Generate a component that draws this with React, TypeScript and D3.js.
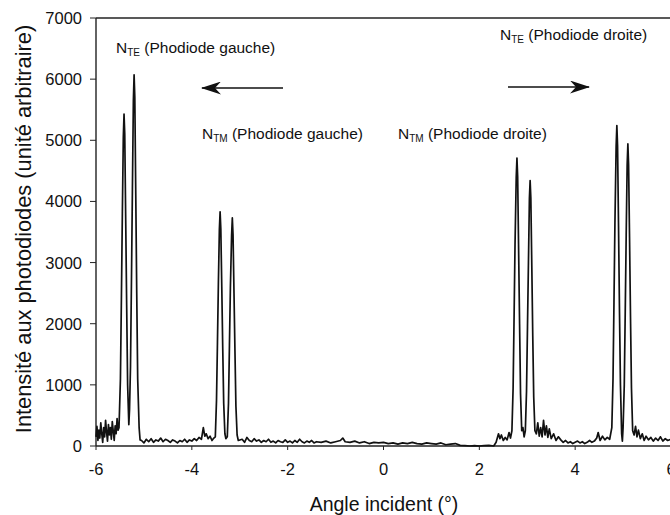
import React from 'react';
import * as d3 from 'd3';

// x: incident angle (deg), y: photodiode intensity (arbitrary units)
const yTicks = [0, 1000, 2000, 3000, 4000, 5000, 6000, 7000];
const xTicks = [-6, -4, -2, 0, 2, 4, 6];

// noisy start of the scan
const noiseStart: [number, number][] = [
  [-6.0, 150], [-5.98, 320], [-5.96, 90], [-5.94, 260], [-5.92, 130], [-5.9, 380],
  [-5.88, 200], [-5.86, 60], [-5.84, 300], [-5.82, 150], [-5.8, 420], [-5.78, 230],
  [-5.76, 80], [-5.74, 350], [-5.72, 180], [-5.7, 300], [-5.68, 110], [-5.66, 400],
  [-5.64, 240], [-5.62, 90], [-5.6, 330], [-5.58, 200], [-5.56, 450], [-5.54, 260],
];

// N_TE, left photodiode
const peaksTeGauche: [number, number][] = [
  [-5.52, 300], [-5.49, 1100], [-5.47, 2400], [-5.45, 3800], [-5.43, 5050],
  [-5.415, 5430], [-5.4, 5100], [-5.38, 3700], [-5.36, 2300], [-5.34, 1000],
  [-5.315, 350], [-5.3, 600], [-5.28, 1300], [-5.26, 2700], [-5.24, 4200],
  [-5.22, 5650], [-5.205, 6070], [-5.19, 5700], [-5.17, 4100], [-5.15, 2500],
  [-5.13, 1100], [-5.1, 300], [-5.08, 100],
];

const baseline1: [number, number][] = [
  [-5.05, 90], [-5.0, 50], [-4.95, 110], [-4.9, 70], [-4.85, 120], [-4.8, 60],
  [-4.75, 100], [-4.7, 80], [-4.65, 130], [-4.6, 70], [-4.55, 110], [-4.5, 90],
  [-4.45, 60], [-4.4, 100], [-4.35, 80], [-4.3, 50], [-4.25, 90], [-4.2, 70],
  [-4.15, 110], [-4.1, 60], [-4.05, 100], [-4.0, 80], [-3.95, 120], [-3.9, 90],
  [-3.85, 140], [-3.8, 110], [-3.76, 300], [-3.73, 160], [-3.7, 200], [-3.66, 120],
  [-3.62, 160], [-3.58, 90], [-3.54, 130],
];

// N_TM, left photodiode
const peaksTmGauche: [number, number][] = [
  [-3.51, 150], [-3.485, 750], [-3.465, 1700], [-3.445, 2700], [-3.425, 3550],
  [-3.41, 3830], [-3.395, 3550], [-3.375, 2600], [-3.355, 1600], [-3.335, 700],
  [-3.31, 200], [-3.29, 120], [-3.26, 150], [-3.235, 700], [-3.215, 1650],
  [-3.195, 2600], [-3.17, 3450], [-3.155, 3730], [-3.14, 3450], [-3.12, 2500],
  [-3.1, 1550], [-3.08, 650], [-3.055, 180], [-3.03, 90],
];

const baseline2: [number, number][] = [
  [-2.95, 110], [-2.9, 60], [-2.85, 140], [-2.8, 90], [-2.75, 70], [-2.7, 120],
  [-2.65, 80], [-2.6, 100], [-2.55, 60], [-2.5, 90], [-2.45, 70], [-2.4, 110],
  [-2.35, 60], [-2.3, 80], [-2.25, 50], [-2.2, 90], [-2.15, 70], [-2.1, 60],
  [-2.05, 100], [-2.0, 60], [-1.95, 80], [-1.9, 50], [-1.85, 90], [-1.8, 60],
  [-1.75, 110], [-1.7, 70], [-1.65, 50], [-1.6, 80], [-1.55, 60], [-1.5, 90],
  [-1.45, 50], [-1.4, 70], [-1.3, 60], [-1.2, 80], [-1.1, 50], [-1.0, 70],
  [-0.9, 90], [-0.85, 130], [-0.8, 70], [-0.7, 60], [-0.6, 80], [-0.5, 50],
  [-0.4, 70], [-0.3, 40], [-0.2, 60], [-0.1, 50], [0, 60], [0.1, 40], [0.2, 50],
  [0.3, 30], [0.4, 50], [0.5, 40], [0.6, 60], [0.7, 40], [0.8, 30], [0.9, 50],
  [1.0, 40], [1.1, 30], [1.2, 50], [1.3, 20], [1.4, 30], [1.5, 40], [1.6, 10],
  [1.7, 5], [1.8, 0], [1.9, 5], [2.0, 0], [2.1, 5], [2.2, 10], [2.3, 0],
  [2.35, 60], [2.4, 200], [2.43, 120], [2.46, 180], [2.5, 90], [2.54, 140],
  [2.58, 100], [2.62, 220], [2.65, 130],
];

// N_TM, right photodiode
const peaksTmDroite: [number, number][] = [
  [2.68, 250], [2.705, 950], [2.725, 2100], [2.745, 3300], [2.77, 4400],
  [2.785, 4710], [2.8, 4400], [2.82, 3200], [2.84, 2000], [2.86, 850],
  [2.885, 250], [2.91, 300], [2.935, 150], [2.96, 250], [2.985, 900],
  [3.005, 1950], [3.025, 3000], [3.045, 4050], [3.06, 4340], [3.075, 4050],
  [3.095, 2950], [3.115, 1800], [3.135, 800], [3.16, 250], [3.19, 200],
];

const baseline3: [number, number][] = [
  [3.22, 380], [3.25, 160], [3.28, 300], [3.31, 150], [3.34, 420], [3.37, 180],
  [3.4, 330], [3.43, 140], [3.46, 280], [3.5, 120], [3.55, 200], [3.6, 90],
  [3.65, 150], [3.7, 100], [3.75, 60], [3.8, 90], [3.85, 50], [3.9, 70],
  [3.95, 40], [4.0, 60], [4.05, 80], [4.1, 50], [4.15, 70], [4.2, 40], [4.25, 60],
  [4.3, 90], [4.35, 60], [4.4, 80], [4.45, 130], [4.48, 220], [4.52, 90],
  [4.57, 160], [4.62, 100], [4.67, 140], [4.72, 110],
];

// N_TE, right photodiode
const peaksTeDroite: [number, number][] = [
  [4.765, 300], [4.79, 1100], [4.81, 2350], [4.83, 3650], [4.855, 4900],
  [4.87, 5240], [4.885, 4900], [4.905, 3600], [4.925, 2200], [4.945, 1000],
  [4.97, 200], [4.985, 80], [5.0, 300], [5.025, 1000], [5.045, 2200],
  [5.065, 3450], [5.085, 4600], [5.1, 4940], [5.115, 4600], [5.135, 3400],
  [5.155, 2100], [5.175, 950], [5.2, 250], [5.23, 180],
];

const noiseEnd: [number, number][] = [
  [5.26, 320], [5.29, 150], [5.32, 260], [5.36, 120], [5.4, 200], [5.44, 90],
  [5.48, 160], [5.53, 100], [5.58, 140], [5.63, 80], [5.68, 130], [5.73, 90],
  [5.78, 150], [5.83, 80], [5.88, 120], [5.93, 90], [6.0, 110],
];

const trace = [
  ...noiseStart, ...peaksTeGauche, ...baseline1, ...peaksTmGauche,
  ...baseline2, ...peaksTmDroite, ...baseline3, ...peaksTeDroite, ...noiseEnd,
];

const font = '"Liberation Sans", Arial, sans-serif';

const App = () => {
  const width = 670;
  const height = 515;
  const left = 96;
  const right = 671;
  const top = 18;
  const bottom = 446;

  const x = d3.scaleLinear().domain([-6, 6]).range([left, right]);
  const y = d3.scaleLinear().domain([0, 7000]).range([bottom, top]);

  const line = d3.line<[number, number]>()
    .x(d => x(d[0]))
    .y(d => y(d[1]));

  const sub = (s: string, rest: string, tx: number, ty: number) => (
    <text x={tx} y={ty} fontSize={15.5} fontFamily={font} fill="#111">
      N
      <tspan fontSize={10} dy={3}>{s}</tspan>
      <tspan dy={-3}>{rest}</tspan>
    </text>
  );

  return (
    <svg width={width} height={height}
      style={{ position: 'absolute', left: 0, top: 0, background: '#fff' }}>
      <defs>
        <marker id="head" viewBox="0 0 20 13" refX="19" refY="6.5"
          markerWidth="20" markerHeight="13" orient="auto-start-reverse"
          markerUnits="userSpaceOnUse">
          <path d="M0,0 L20,6.5 L0,13 L6,6.5 Z" fill="#111" />
        </marker>
      </defs>

      {/* frame */}
      <line x1={left} x2={right} y1={top} y2={top} stroke="#222" strokeWidth={1.4} />
      <line x1={left} x2={left} y1={top} y2={bottom} stroke="#222" strokeWidth={1.4} />
      <line x1={left} x2={right} y1={bottom} y2={bottom} stroke="#222" strokeWidth={1.4} />

      {/* y axis */}
      {yTicks.map(t => (
        <g key={t}>
          <line x1={left - 6} x2={left} y1={y(t)} y2={y(t)} stroke="#222" />
          <text x={left - 14} y={y(t)} dy="0.36em" textAnchor="end"
            fontSize={16.5} fontFamily={font} fill="#111">{t}</text>
        </g>
      ))}

      {/* x axis */}
      {xTicks.map(t => (
        <g key={t}>
          <line x1={x(t)} x2={x(t)} y1={bottom} y2={bottom + 4} stroke="#222" />
          <text x={x(t)} y={bottom + 29} textAnchor="middle"
            fontSize={16.5} fontFamily={font} fill="#111">{t}</text>
        </g>
      ))}

      <text x={384} y={511} textAnchor="middle" fontSize={19.5} fontFamily={font} fill="#111">
        Angle incident (°)
      </text>
      <text transform={`translate(31, 229) rotate(-90)`}
        textAnchor="middle" fontSize={21.8} fontFamily={font} fill="#111">
        Intensité aux photodiodes (unité arbitraire)
      </text>

      {/* spectrum */}
      <path d={line(trace) ?? ''} fill="none" stroke="#111" strokeWidth={1.7}
        strokeLinejoin="round" />

      {/* annotations */}
      {sub('TE', ' (Phodiode gauche)', 116, 53)}
      {sub('TM', ' (Phodiode gauche)', 202, 139)}
      {sub('TM', ' (Phodiode droite)', 398, 139)}
      {sub('TE', ' (Phodiode droite)', 500, 40)}

      <line x1={283} x2={202} y1={88} y2={88} stroke="#111" strokeWidth={1.6}
        markerEnd="url(#head)" />
      <line x1={508} x2={589} y1={87} y2={87} stroke="#111" strokeWidth={1.6}
        markerEnd="url(#head)" />
    </svg>
  );
};

export default App;
